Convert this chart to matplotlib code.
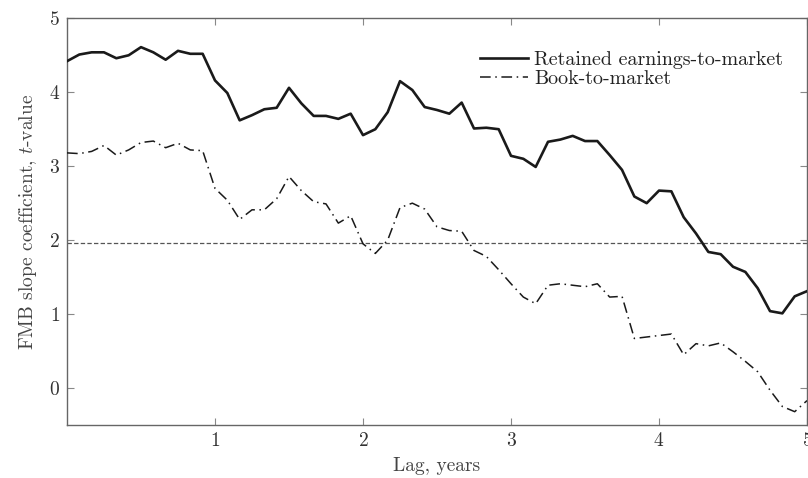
import numpy as np
import matplotlib
matplotlib.use('Agg')
import matplotlib.pyplot as plt

plt.rcParams['font.family'] = 'serif'
plt.rcParams['font.serif'] = ['cmr10', 'DejaVu Serif']
plt.rcParams['mathtext.fontset'] = 'cm'
plt.rcParams['axes.formatter.use_mathtext'] = True
plt.rcParams['axes.unicode_minus'] = False

# monthly lags, 0 .. 60 months
months = np.arange(61)
lag_years = months / 12.0

retained_earnings = [
    4.42, 4.51, 4.54, 4.54, 4.46, 4.50, 4.61, 4.54, 4.44, 4.56,
    4.52, 4.52, 4.16, 3.99, 3.62, 3.69, 3.77, 3.79, 4.06, 3.85,
    3.68, 3.68, 3.64, 3.71, 3.42, 3.50, 3.73, 4.15, 4.03, 3.80,
    3.76, 3.71, 3.86, 3.51, 3.52, 3.50, 3.14, 3.10, 2.99, 3.33,
    3.36, 3.41, 3.34, 3.34, 3.15, 2.95, 2.59, 2.50, 2.67, 2.66,
    2.31, 2.09, 1.84, 1.81, 1.64, 1.57, 1.35, 1.04, 1.01, 1.24,
    1.31,
]
book_to_market = [
    3.18, 3.17, 3.20, 3.28, 3.15, 3.22, 3.32, 3.34, 3.25, 3.31,
    3.22, 3.21, 2.70, 2.54, 2.28, 2.41, 2.41, 2.56, 2.86, 2.67,
    2.52, 2.49, 2.23, 2.33, 1.95, 1.82, 2.00, 2.44, 2.50, 2.42,
    2.18, 2.13, 2.12, 1.86, 1.78, 1.60, 1.41, 1.23, 1.14, 1.39,
    1.41, 1.39, 1.37, 1.41, 1.23, 1.24, 0.67, 0.69, 0.71, 0.73,
    0.45, 0.60, 0.57, 0.61, 0.49, 0.36, 0.22, -0.03, -0.25, -0.32,
    -0.17,
]
critical_t = 1.96

fig = plt.figure(figsize=(8.08, 4.78), dpi=100)
ax = fig.add_axes([0.0829, 0.1109, 0.9159, 0.8508])

ax.axhline(critical_t, color='#555555', lw=0.9, ls=(0, (3.5, 1.8)), zorder=1)
ax.plot(lag_years, retained_earnings, color='#1a1a1a', lw=1.9,
        label='Retained earnings-to-market', zorder=3)
ax.plot(lag_years, book_to_market, color='#1a1a1a', lw=1.1,
        ls=(0, (7, 3, 1, 3)), label='Book-to-market', zorder=3)

ax.set_xlim(0, 5)
ax.set_ylim(-0.5, 5)
ax.set_xticks([1, 2, 3, 4, 5])
ax.set_yticks([0, 1, 2, 3, 4, 5])
ax.tick_params(direction='in', top=True, right=True, length=5,
               color='#888888', labelsize=14, labelcolor='#333333', pad=5)
for sp in ax.spines.values():
    sp.set_color('#666666')
    sp.set_linewidth(1.0)

ax.set_xlabel('Lag, years', fontsize=14, color='#444444', labelpad=5)
ax.set_ylabel('FMB slope coefficient, $t$-value', fontsize=14,
              color='#444444', labelpad=7)

leg = ax.legend(loc='upper right', frameon=False, fontsize=14.4,
                handlelength=2.4, handletextpad=0.3, labelspacing=0.05,
                borderaxespad=0.0, bbox_to_anchor=(0.979, 0.94))
for t in leg.get_texts():
    t.set_color('#222222')

fig.savefig('out.png', dpi=100)
